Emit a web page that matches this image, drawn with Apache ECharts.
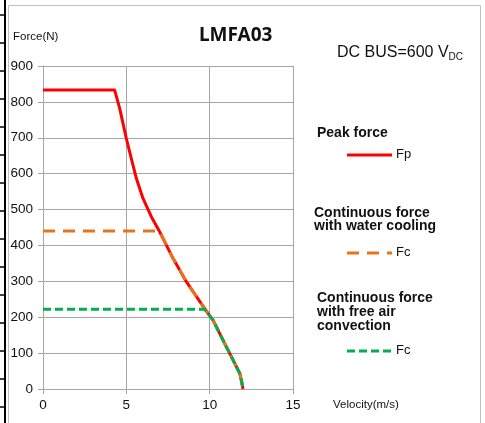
<!DOCTYPE html>
<html>
<head>
<meta charset="utf-8">
<script src="https://cdn.jsdelivr.net/npm/echarts@6/dist/echarts.min.js"></script>
<style>html,body{margin:0;padding:0;background:#fff}#c{width:485px;height:423px}</style>
</head>
<body>
<div id="c"></div>
<script>
var xTicks = [0, 5, 10, 15];
var yTicks = [0, 100, 200, 300, 400, 500, 600, 700, 800, 900];

var peakVel   = [0, 4.3, 4.6, 5.0, 5.3, 5.6, 6.0, 6.5, 7.0, 7.8, 8.6, 9.7, 10.2, 10.8, 11.4, 11.8, 11.9, 12.0];
var peakForce = [833, 833, 782, 698, 642, 587, 531, 480, 438, 364, 299, 224, 192, 136, 81, 44, 25, 0];

var waterVel   = [0, 7.0, 7.8, 8.6, 9.7, 10.2, 10.8, 11.4, 11.8, 11.9, 12.0];
var waterForce = [440, 440, 364, 299, 224, 192, 136, 81, 44, 25, 0];

var airVel   = [0, 9.7, 10.2, 10.8, 11.4, 11.8, 11.9, 12.0];
var airForce = [222, 222, 192, 136, 81, 44, 25, 0];

function pairs(xs, ys) { return xs.map(function (x, i) { return [x, ys[i]]; }); }

var RED = '#FF0000', ORANGE = '#E8731A', GREEN = '#00B050';
var GRID = '#A6A6A6';
var FONT = '"Liberation Sans", Arial, sans-serif';

var chart = echarts.init(document.getElementById('c'));

var graphics = [
  { type: 'rect', shape: { x: 8.5, y: 5.5, width: 472, height: 430 }, style: { fill: 'none', stroke: '#BFBFBF', lineWidth: 1 }, silent: true },
  { type: 'line', shape: { x1: 5, y1: 0, x2: 5, y2: 423 }, style: { stroke: '#000', lineWidth: 2 }, silent: true },
  { type: 'text', left: 13, top: 31, style: { text: 'Force(N)', font: '11.5px ' + FONT, fill: '#111' } },
  { type: 'text', left: 333, top: 399, style: { text: 'Velocity(m/s)', font: '11.5px ' + FONT, fill: '#111' } },
  { type: 'text', left: 199, top: 26, style: { text: 'LMFA03', font: 'bold 19px "Noto Sans", "Open Sans", sans-serif', fill: '#111' } },
  { type: 'text', left: 337, top: 45, style: {
      rich: { a: { font: '16px ' + FONT, fill: '#111' }, s: { font: '10px ' + FONT, fill: '#111', padding: [9, 0, 0, 0] } },
      text: '{a|DC BUS=600 V}{s|DC}' } },
  { type: 'text', left: 317, top: 126, style: { text: 'Peak force', font: 'bold 14px ' + FONT, fill: '#111' } },
  { type: 'line', shape: { x1: 347, y1: 155, x2: 392, y2: 155 }, style: { stroke: RED, lineWidth: 3 } },
  { type: 'text', left: 396, top: 148, style: { text: 'Fp', font: '13px ' + FONT, fill: '#111' } },
  { type: 'text', left: 314, top: 206, style: { text: 'Continuous force\nwith water cooling', font: 'bold 14px ' + FONT, lineHeight: 13.5, fill: '#111' } },
  { type: 'line', shape: { x1: 347, y1: 253, x2: 392, y2: 253 }, style: { stroke: ORANGE, lineWidth: 3, lineDash: [12, 8] } },
  { type: 'text', left: 396, top: 246, style: { text: 'Fc', font: '13px ' + FONT, fill: '#111' } },
  { type: 'text', left: 317, top: 291, style: { text: 'Continuous force\nwith free air\nconvection', font: 'bold 14px ' + FONT, lineHeight: 14, fill: '#111' } },
  { type: 'line', shape: { x1: 347, y1: 351, x2: 392, y2: 351 }, style: { stroke: GREEN, lineWidth: 3, lineDash: [8, 4] } },
  { type: 'text', left: 396, top: 344, style: { text: 'Fc', font: '13px ' + FONT, fill: '#111' } }
];
for (var ty = 15; ty < 423; ty += 28) {
  graphics.push({ type: 'line', shape: { x1: 0, y1: ty, x2: 5, y2: ty }, style: { stroke: '#000', lineWidth: 1.5 }, silent: true });
}

chart.setOption({
  animation: false,
  backgroundColor: '#fff',
  grid: { left: 43, right: 192, top: 66, bottom: 34, containLabel: false },
  xAxis: {
    type: 'value', min: xTicks[0], max: xTicks[xTicks.length - 1], interval: 5,
    axisLine: { show: true, lineStyle: { color: GRID, width: 1 } },
    axisTick: { show: true, length: 5, lineStyle: { color: GRID } },
    splitLine: { show: true, lineStyle: { color: GRID, width: 1 } },
    axisLabel: { color: '#111', fontFamily: FONT, fontSize: 13.5, margin: 9 }
  },
  yAxis: {
    type: 'value', min: yTicks[0], max: yTicks[yTicks.length - 1], interval: 100,
    axisLine: { show: true, lineStyle: { color: GRID, width: 1 } },
    axisTick: { show: true, length: 5, lineStyle: { color: GRID } },
    splitLine: { show: true, lineStyle: { color: GRID, width: 1 } },
    axisLabel: { color: '#111', fontFamily: FONT, fontSize: 13.5, margin: 10 }
  },
  series: [
    { name: 'Fp', type: 'line', data: pairs(peakVel, peakForce), showSymbol: false, smooth: false,
      lineStyle: { color: RED, width: 3, join: 'round' }, z: 2 },
    { name: 'Fc water', type: 'line', data: pairs(waterVel, waterForce), showSymbol: false, smooth: false,
      lineStyle: { color: ORANGE, width: 3, type: [12, 8], join: 'round' }, z: 3 },
    { name: 'Fc air', type: 'line', data: pairs(airVel, airForce), showSymbol: false, smooth: false,
      lineStyle: { color: GREEN, width: 3, type: [8, 4], join: 'round' }, z: 4 }
  ],
  graphic: graphics
});
</script>
</body>
</html>
